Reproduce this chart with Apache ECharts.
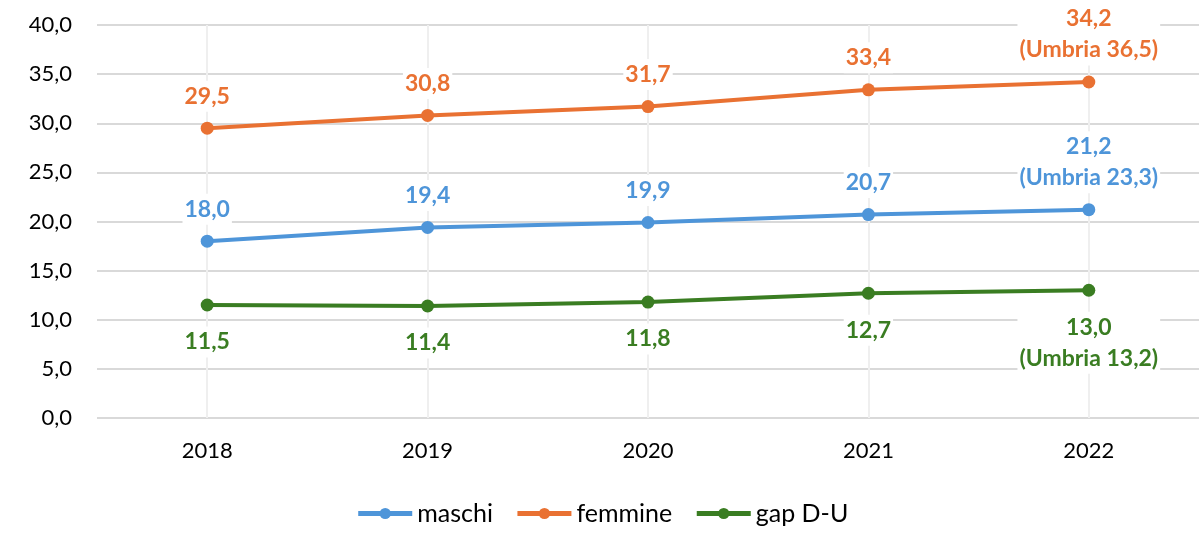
<!DOCTYPE html>
<html>
<head>
<meta charset="utf-8">
<script src="https://cdn.jsdelivr.net/npm/echarts@6/dist/echarts.min.js"></script>
<style>
  html, body { margin: 0; padding: 0; background: #fff; }
  #chart { width: 1204px; height: 533px; }
</style>
</head>
<body>
<div id="chart"></div>
<script>
// data
const years = ['2018', '2019', '2020', '2021', '2022']
const maschi = [18.0, 19.4, 19.9, 20.7, 21.2]
const femmine = [29.5, 30.8, 31.7, 33.4, 34.2]
const gap = [11.5, 11.4, 11.8, 12.7, 13.0]
// Umbria values shown next to the last point
const umbriaMaschi = 23.3
const umbriaFemmine = 36.5
const umbriaGap = 13.2

const FONT = 'Lato, "Open Sans", sans-serif'
const fmt = v => v.toFixed(1).replace('.', ',')

// label formatter: last point gets the Umbria line too
const labelFor = (umbria) => (p) => {
  if (p.dataIndex === years.length - 1) {
    return fmt(p.value) + '\n(Umbria ' + fmt(umbria) + ')'
  }
  return fmt(p.value)
}

const makeSeries = (name, data, color, umbria, position, distance) => ({
  name: name,
  type: 'line',
  data: data,
  symbol: 'circle',
  symbolSize: 13,
  lineStyle: { width: 4, color: color },
  itemStyle: { color: color },
  label: {
    show: true,
    position: position,
    distance: distance,
    color: color,
    fontFamily: FONT,
    fontWeight: 'bold',
    fontSize: 23,
    lineHeight: 31,
    backgroundColor: '#fff',
    padding: [0, 2],
    formatter: labelFor(umbria)
  },
  z: 3
})

const chart = echarts.init(document.getElementById('chart'))

const option = {
  animation: false,
  backgroundColor: '#fff',
  grid: { left: 97, right: 5, top: 25, bottom: 115 },
  legend: {
    bottom: 2,
    left: 'center',
    itemWidth: 54,
    itemHeight: 14,
    itemGap: 22,
    lineStyle: { width: 5 },
    textStyle: { fontFamily: FONT, fontSize: 25, color: '#000' },
    data: ['maschi', 'femmine', 'gap D-U']
  },
  xAxis: {
    type: 'category',
    data: years,
    axisLine: { show: false },
    axisTick: { show: false },
    axisLabel: { color: '#000', fontFamily: FONT, fontSize: 22, margin: 22 },
    splitLine: { show: true, alignWithLabel: true, lineStyle: { color: '#efefef', width: 2 } }
  },
  yAxis: {
    type: 'value',
    min: 0,
    max: 40,
    interval: 5,
    axisLine: { show: false },
    axisTick: { show: false },
    axisLabel: {
      color: '#000',
      fontFamily: FONT,
      fontSize: 22,
      margin: 25,
      formatter: v => fmt(v)
    },
    splitLine: { lineStyle: { color: '#d9d9d9', width: 2 } }
  },
  series: [
    makeSeries('maschi', maschi, '#4E95D9', umbriaMaschi, 'top', 10),
    makeSeries('femmine', femmine, '#E97132', umbriaFemmine, 'top', 10),
    makeSeries('gap D-U', gap, '#3A7D22', umbriaGap, 'bottom', 15)
  ]
}

chart.setOption(option)
</script>
</body>
</html>
